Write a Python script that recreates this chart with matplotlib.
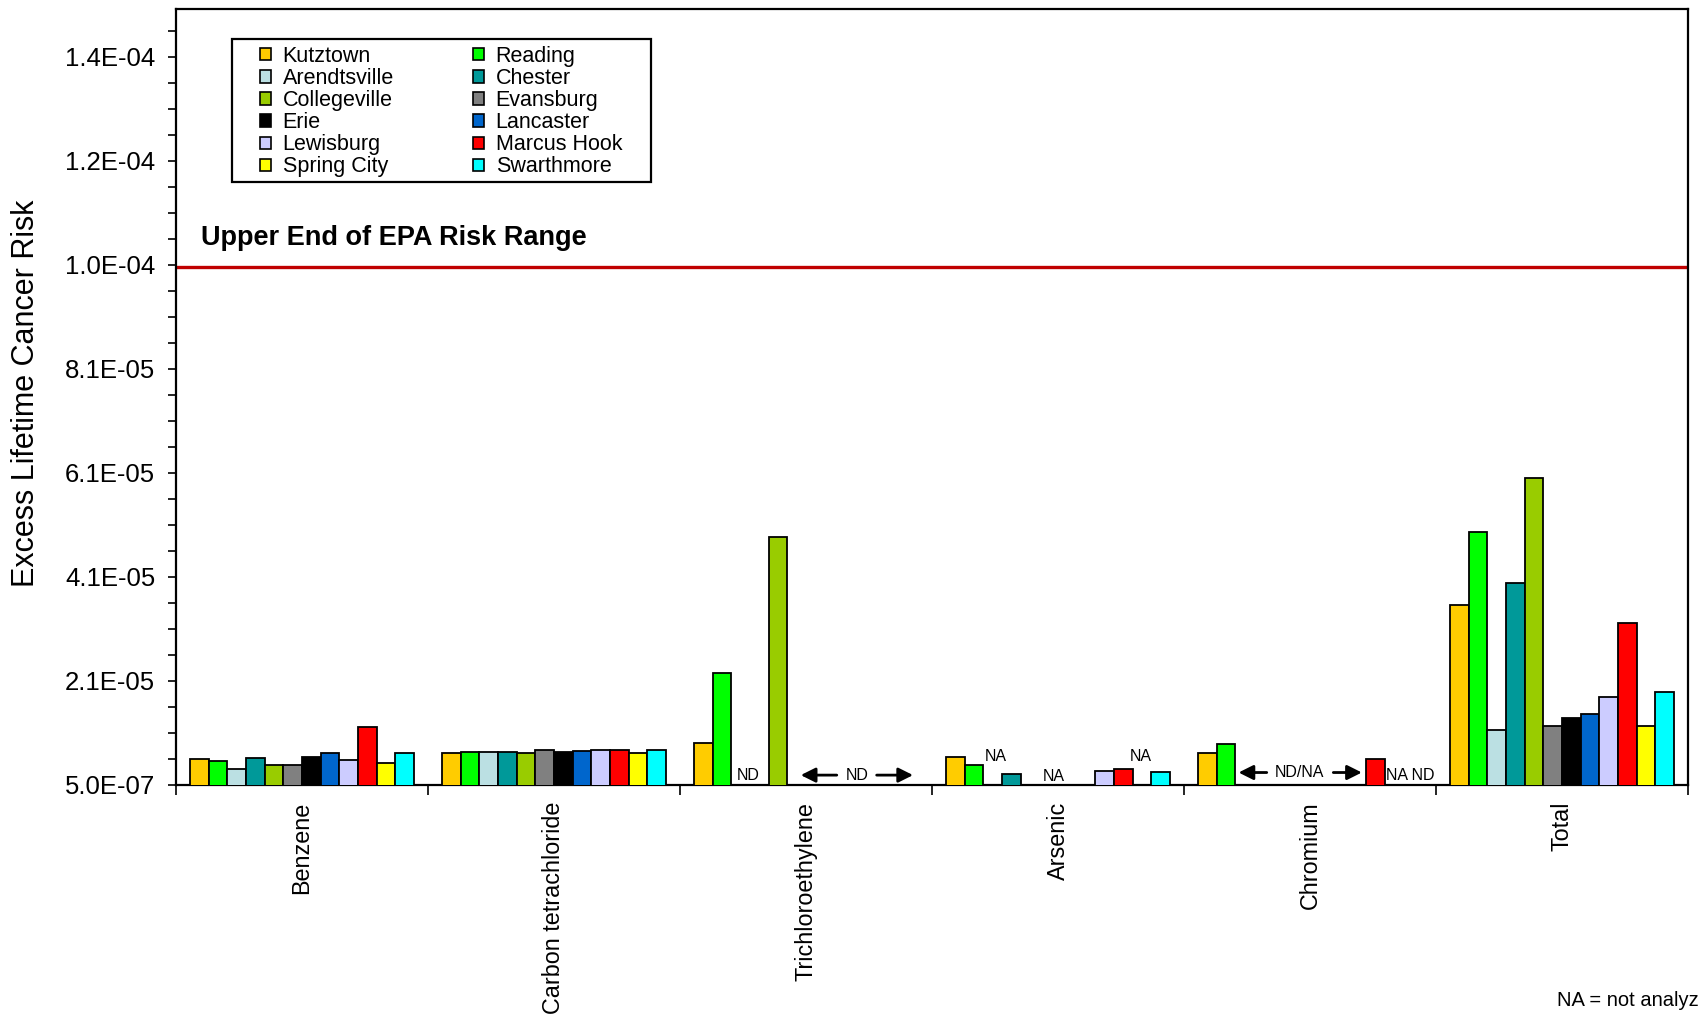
import numpy as np
import matplotlib
matplotlib.use("Agg")
import matplotlib.pyplot as plt
from matplotlib.patches import Patch, Rectangle
from matplotlib import font_manager
import matplotlib.transforms as mtransforms

nan = np.nan

categories = ["Benzene", "Carbon tetrachloride", "Trichloroethylene",
              "Arsenic", "Chromium", "Total"]

sites = ["Kutztown", "Reading", "Arendtsville", "Chester", "Collegeville",
         "Evansburg", "Erie", "Lancaster", "Lewisburg", "Marcus Hook",
         "Spring City", "Swarthmore"]

site_colors = ["#FFCC00", "#00FF00", "#BBE0E3", "#009999", "#99CC00",
               "#808080", "#000000", "#0066CC", "#CCCCFF", "#FF0000",
               "#FFFF00", "#00FFFF"]

# risk per category, one value per site (same order as `sites`)
benzene = [5.45e-6, 5.06e-6, 3.52e-6, 5.75e-6, 4.29e-6, 4.29e-6,
           5.89e-6, 6.6e-6, 5.31e-6, 1.17e-5, 4.67e-6, 6.6e-6]
carbon_tet = [6.6e-6, 6.9e-6, 6.9e-6, 6.9e-6, 6.6e-6, 7.3e-6,
              6.8e-6, 6.95e-6, 7.25e-6, 7.25e-6, 6.6e-6, 7.25e-6]
tce = [8.5e-6, 2.21e-5, nan, nan, 4.82e-5, nan,
       nan, nan, nan, nan, nan, nan]
arsenic = [5.84e-6, 4.4e-6, nan, 2.6e-6, nan, nan,
           nan, nan, 3.26e-6, 3.6e-6, nan, 2.95e-6]
chromium = [6.6e-6, 8.4e-6, nan, nan, nan, nan,
            nan, nan, nan, 5.45e-6, nan, nan]
total = [3.50e-5, 4.92e-5, 1.11e-5, 3.94e-5, 5.95e-5, 1.19e-5,
         1.34e-5, 1.41e-5, 1.74e-5, 3.17e-5, 1.19e-5, 1.84e-5]

ytick_values = [5.0e-7, 2.05e-5, 4.05e-5, 6.05e-5, 8.05e-5, 1.005e-4, 1.205e-4, 1.405e-4]
ytick_labels = ["5.0E-07", "2.1E-05", "4.1E-05", "6.1E-05", "8.1E-05",
                "1.0E-04", "1.2E-04", "1.4E-04"]

epa_upper = 1.0e-4

# ---------------------------------------------------------------
base_font = "Liberation Sans"
installed = {f.name for f in font_manager.fontManager.ttflist}
narrow_font = "Liberation Sans Narrow" if "Liberation Sans Narrow" in installed else None

plt.rcParams["font.family"] = [base_font, "DejaVu Sans"]

W, H = 1699, 1019
fig = plt.figure(figsize=(W / 100, H / 100), dpi=100)
ax = fig.add_axes([176 / W, 1 - 785 / H, (1688 - 176) / W, (785 - 8.7) / H])

series = np.array([benzene, carbon_tet, tce, arsenic, chromium, total])
n_sites = len(sites)
bar_w = 0.074
x = np.arange(len(categories))


def slot_x(group, slot):
    return group + (slot - (n_sites - 1) / 2) * bar_w


for j, (name, col) in enumerate(zip(sites, site_colors)):
    ax.bar(x + (j - (n_sites - 1) / 2) * bar_w, series[:, j], width=bar_w,
           color=col, edgecolor="black", linewidth=1.3, label=name, zorder=3)

ymin = 5.0e-7
ymax = ymin + (785 - 8.7) * 1.922e-7
ax.set_ylim(ymin, ymax)
ax.set_xlim(-0.5, len(categories) - 0.5)

# EPA reference line
ax.axhline(epa_upper, color="#C00000", lw=2.4, zorder=2)
blend = mtransforms.blended_transform_factory(ax.transAxes, ax.transData)
ax.text(0.0165, 1.043e-4, "Upper End of EPA Risk Range", transform=blend,
        fontsize=19.5, fontweight="bold", ha="left", va="baseline")

# y axis
ax.set_yticks(ytick_values)
ax.set_yticklabels(ytick_labels, fontsize=18.5)
ax.set_yticks(np.arange(ymin, ymax, 5e-6), minor=True)
ax.tick_params(axis="y", which="both", direction="out", length=6, width=1.2)
ax.tick_params(axis="y", which="major", pad=9)

if narrow_font:
    ax.set_ylabel("Excess Lifetime Cancer Risk", fontsize=27, family=narrow_font)
else:
    ax.set_ylabel("Excess Lifetime Cancer Risk", fontsize=22)
ax.yaxis.label.set_va("center")
ax.yaxis.set_label_coords((26 - 176) / (1688 - 176), 0.505)

# x axis: boundary ticks between groups, category names centred below
ax.set_xticks(np.arange(-0.5, len(categories)))
ax.set_xticklabels([])
ax.set_xticks(x, minor=True)
ax.set_xticklabels(categories, minor=True, rotation=90, fontsize=16.8)
ax.tick_params(axis="x", which="major", direction="out", length=7, width=1.2)
ax.tick_params(axis="x", which="minor", length=0, pad=12)

for s in ax.spines.values():
    s.set_linewidth(1.6)
    s.set_color("black")

# not-detected / not-analysed notes
note_fs = 11.5


def note(group, slot, y, text):
    ax.text(slot_x(group, slot), y, text, fontsize=note_fs, ha="center",
            va="center", zorder=4)


def span_arrow(group, tail, tip, y):
    ax.annotate("", xy=(slot_x(group, tip), y), xytext=(slot_x(group, tail), y),
                arrowprops=dict(arrowstyle="-|>", color="black", lw=2.0,
                                mutation_scale=22, shrinkA=0, shrinkB=0),
                zorder=4)


note(2, 2.42, 2.4e-6, "ND")
note(2, 8.22, 2.4e-6, "ND")
span_arrow(2, 7.15, 5.22, 2.4e-6)
span_arrow(2, 9.29, 11.24, 2.4e-6)

note(3, 2.16, 5.9e-6, "NA")
note(3, 5.28, 2.1e-6, "NA")
note(3, 9.94, 5.9e-6, "NA")

note(4, 4.91, 2.9e-6, "ND/NA")
span_arrow(4, 3.18, 1.67, 2.9e-6)
span_arrow(4, 6.75, 8.28, 2.9e-6)
note(4, 10.87, 2.4e-6, "NA ND")

# legend: boxed, filled row by row in two columns
frame = Rectangle((232 / W, 1 - 182 / H), 419 / W, 143 / H,
                  transform=fig.transFigure, facecolor="white",
                  edgecolor="black", linewidth=1.6, zorder=5)
fig.add_artist(frame)

handles = [Patch(facecolor=c, edgecolor="black", linewidth=1.2) for c in site_colors]
leg_kw = dict(frameon=False, loc="upper left", fontsize=15.5, borderpad=0,
              borderaxespad=0, handlelength=0.5, handleheight=0.5,
              handletextpad=0.55, labelspacing=0.05,
              bbox_transform=fig.transFigure)
leg1 = fig.legend(handles[0::2], sites[0::2],
                  bbox_to_anchor=(260 / W, 1 - 46 / H), **leg_kw)
leg2 = fig.legend(handles[1::2], sites[1::2],
                  bbox_to_anchor=(473 / W, 1 - 46 / H), **leg_kw)
leg1.set_zorder(6)
leg2.set_zorder(6)

fig.text(1557 / W, 1 - 1000 / H, "NA = not analyzed", fontsize=14.5,
         ha="left", va="center")

fig.savefig("out.png", dpi=100)
